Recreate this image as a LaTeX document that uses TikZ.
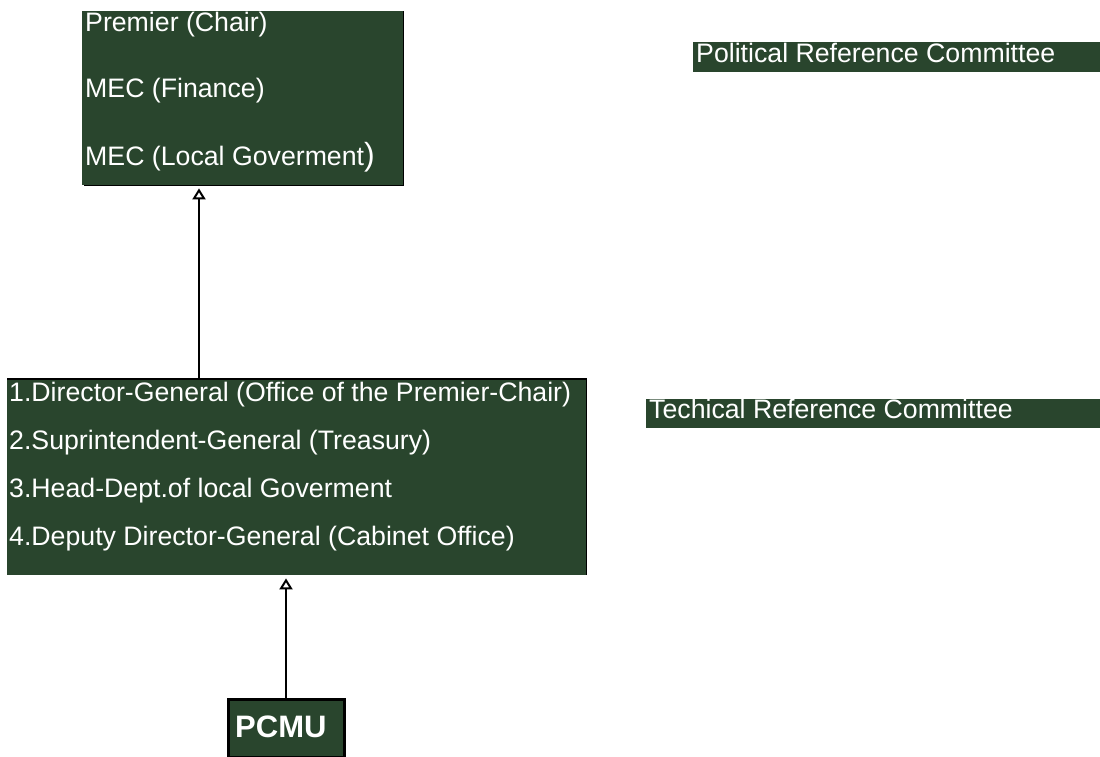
\documentclass[tikz,border=0pt]{standalone}
\usepackage{fontspec}
\setmainfont{Liberation Sans}
\usetikzlibrary{arrows.meta}
\definecolor{boxgreen}{HTML}{29452D}

\begin{document}
\begin{tikzpicture}[x=1pt, y=-1pt, >={Triangle[open, length=11pt, width=13pt]}]
  \useasboundingbox (0,0) rectangle (1100,756);
  \tikzset{
    greenbox/.style={fill=boxgreen, draw=none, anchor=north west, inner sep=0pt},
    boxtext/.style={text=white, anchor=base west, inner sep=0pt, font=\fontsize{26.7}{30}\selectfont},
    link/.style={->, line width=2pt}
  }

  % Political committee box (shadow line right and bottom)
  \node[greenbox, minimum width=321pt, minimum height=174pt] (prc) at (82,11) {};
  \draw[line width=1.6pt] (prc.north east) -- (prc.south east) -- ([xshift=2pt]prc.south west);
  \node[boxtext] (prc1) at (85,31) {Premier (Chair)};
  \node[boxtext] (prc2) at (85,97) {MEC (Finance)};
  \node[boxtext] (prc3) at (85,165) {MEC (Local Goverment{\fontsize{32}{30}\selectfont)}};

  % Technical committee box (line top and right)
  \node[greenbox, minimum width=579pt, minimum height=196pt] (trc) at (7,379) {};
  \draw[line width=1.6pt] (trc.north west) -- (trc.north east) -- (trc.south east);
  \node[boxtext] (trc1) at (9,401) {1.Director-General (Office of the Premier-Chair)};
  \node[boxtext] (trc2) at (9,449) {2.Suprintendent-General (Treasury)};
  \node[boxtext] (trc3) at (9,497) {3.Head-Dept.of local Goverment};
  \node[boxtext] (trc4) at (9,545) {4.Deputy Director-General (Cabinet Office)};

  % PCMU
  \node[greenbox, draw=black, line width=2.5pt, minimum width=116pt, minimum height=58pt] (pcmu) at (227,698) {};
  \node[boxtext, font=\fontsize{31}{34}\selectfont\bfseries] (pcmutxt) at (235,737) {PCMU};

  % Side labels
  \node[greenbox, minimum width=407pt, minimum height=30pt] (plabel) at (693,42) {};
  \node[boxtext] (plabeltxt) at (696,62) {Political Reference Committee};
  \node[greenbox, minimum width=454pt, minimum height=29pt] (tlabel) at (646,399) {};
  \node[boxtext] (tlabeltxt) at (649,418) {Techical Reference Committee};

  % Arrows
  \coordinate (ax1) at (199,0);
  \coordinate (ax2) at (286,0);
  \draw[link] (trc.north -| ax1) -- ([yshift=-3pt]prc.south -| ax1);
  \draw[link] (pcmu.north -| ax2) -- ([yshift=-3pt]trc.south -| ax2);
\end{tikzpicture}
\end{document}
